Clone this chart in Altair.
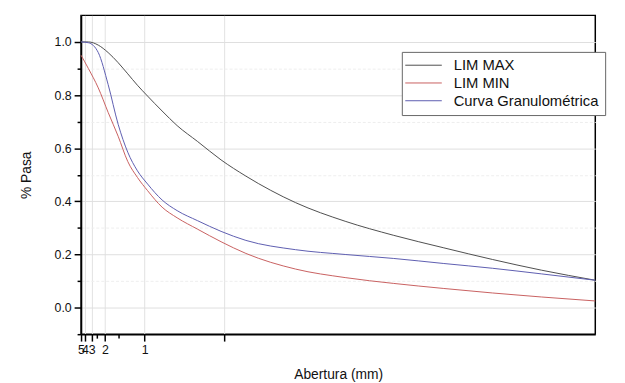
import altair as alt
import pandas as pd

# Aperture (mm) at which each curve was read, and % passing for each curve
aberturas = [5, 3.42, 2.4, 1.85, 1.5, 1.27, 1.1, 0.964, 0.82, 0.71,
             0.6, 0.51, 0.44, 0.345, 0.284, 0.242, 0.21, 0.186, 0.167, 0.15]
lim_max = [1.0, 1.0, 0.988, 0.96, 0.922, 0.88, 0.837, 0.796, 0.74, 0.685,
           0.625, 0.556, 0.495, 0.395, 0.325, 0.272, 0.225, 0.181, 0.141, 0.103]
lim_min = [0.95, 0.90, 0.827, 0.735, 0.645, 0.55, 0.49, 0.44, 0.378, 0.338,
           0.295, 0.248, 0.204, 0.145, 0.113, 0.091, 0.072, 0.055, 0.04, 0.025]
curva = [1.0, 0.997, 0.96, 0.84, 0.69, 0.585, 0.515, 0.465, 0.405, 0.365,
         0.327, 0.287, 0.253, 0.218, 0.2, 0.185, 0.166, 0.148, 0.127, 0.103]

series_names = ["LIM MAX", "LIM MIN", "Curva Granulométrica"]
series_colors = ["#4d4d4d", "#c86060", "#5c5cb0"]

x_major_mm = [5, 4, 3, 2, 1, 0.5]
x_minor_mm = [2.5, 1.5]
y_major = [0.0, 0.2, 0.4, 0.6, 0.8, 1.0]
y_minor = [-0.1, 0.1, 0.3, 0.5, 0.7, 0.9]

rows = []
for name, vals in zip(series_names, [lim_max, lim_min, curva]):
    for a, v in zip(aberturas, vals):
        rows.append({"abertura": a, "pasa": v, "serie": name})
df = pd.DataFrame(rows)

FONT = "Liberation Sans"
xdom = [1 / 5, 1 / 0.15]

base = alt.Chart(df).transform_calculate(inv="1 / datum.abertura")

x_major_axis = alt.Axis(
    values=[1 / m for m in x_major_mm],
    labelExpr="datum.value > 1.5 ? '' : format(1 / datum.value, '.0f')",
    title="Abertura (mm)", titleFontSize=14, titleFontWeight="normal", titleFont=FONT,
    titleColor="#111", titlePadding=11,
    labelFont=FONT, labelFontSize=12.5, labelColor="#111", labelOverlap=False, labelFlush=False,
    labelPadding=3, tickSize=7, tickColor="black", tickWidth=1.5,
    domainColor="black", domainWidth=1.5,
    grid=True, gridColor="#e2e2e2", gridWidth=1, orient="bottom",
)
y_major_axis = alt.Axis(
    values=y_major, format=".1f",
    title="% Pasa", titleFontSize=14, titleFontWeight="normal", titleFont=FONT,
    titleColor="#111", titlePadding=21,
    labelFont=FONT, labelFontSize=12.5, labelColor="#111", labelPadding=3,
    tickSize=7, tickColor="black", tickWidth=1.5,
    domainColor="black", domainWidth=1.5,
    grid=True, gridColor="#dedede", gridWidth=1, orient="left",
)

lines = base.mark_line(interpolate="monotone", strokeWidth=1).encode(
    x=alt.X("inv:Q", scale=alt.Scale(domain=xdom, nice=False, zero=False), axis=x_major_axis),
    y=alt.Y("pasa:Q", scale=alt.Scale(domain=[-0.1, 1.1], nice=False, zero=False), axis=y_major_axis),
    color=alt.Color(
        "serie:N",
        scale=alt.Scale(domain=series_names, range=series_colors),
        legend=alt.Legend(
            orient="none", legendX=325, legendY=37, title=None,
            symbolType="M-3.7,0H3.7", symbolSize=100, symbolStrokeWidth=1,
            symbolOffset=8.5, labelOffset=23,
            labelFont=FONT, labelFontSize=15, labelColor="#111",
            strokeColor="#666", fillColor="white", padding=6, rowPadding=2,
        ),
    ),
)

minor = base.mark_line(opacity=0).encode(
    x=alt.X("inv:Q", axis=alt.Axis(
        values=[1 / m for m in x_minor_mm], labels=False, title=None, tickSize=4,
        tickColor="black", tickWidth=1.5, domain=False, grid=False, orient="bottom")),
    y=alt.Y("pasa:Q", axis=alt.Axis(
        values=y_minor, labels=False, title=None, tickSize=4, tickColor="black", tickWidth=1.5,
        domain=False, grid=True, gridColor="#eeeeee", gridDash=[3, 2], orient="left")),
    detail="serie:N",
)

chart = (
    alt.layer(minor, lines)
    .resolve_axis(x="independent", y="independent")
    .properties(
        width=521, height=323,
        autosize=alt.AutoSizeParams(type="none"),
        padding={"left": 74, "top": 5, "right": 22, "bottom": 47},
        background="white",
    )
    .configure_view(stroke="black", strokeWidth=1.5)
)

chart.save("out.html", embed_options={"renderer": "svg", "actions": False})
